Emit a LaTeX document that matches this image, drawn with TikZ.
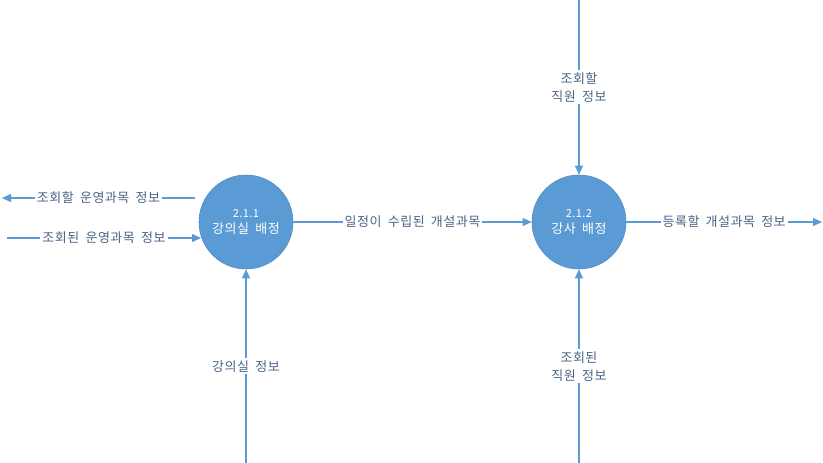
\documentclass[tikz,border=0pt]{standalone}
\usepackage{fontspec}
\newfontfamily\kr[LetterSpace=4,WordSpace=1.8]{Noto Sans CJK KR}
\usetikzlibrary{arrows.meta}
\definecolor{procblue}{HTML}{5B9BD5}
\definecolor{procedge}{HTML}{4F8DC8}
\definecolor{flowline}{HTML}{5B9BD5}
\definecolor{labeltext}{HTML}{4A6485}
\tikzset{
  proc/.style={circle, minimum size=94pt, inner sep=0pt, fill=procblue, draw=procedge, line width=0.6pt, text=white, align=center, font=\kr\fontsize{13}{16}\selectfont},
  flow/.style={draw=flowline, line width=1.2pt, -{Triangle[length=9pt,width=8pt]}},
  flowlabel/.style={fill=white, inner sep=2pt, text=labeltext, align=center, font=\kr\fontsize{13}{18}\selectfont},
}
\begin{document}
\begin{tikzpicture}[x=1pt,y=-1pt]
\useasboundingbox (0,0) rectangle (823,463);
\node[proc] (p1) at (246,222) {{\fontsize{11}{13}\selectfont 2.1.1}\\강의실 배정};
\node[proc] (p2) at (579,222) {{\fontsize{11}{13}\selectfont 2.1.2}\\강사 배정};
\coordinate (tlA) at (195,198);
\coordinate (tlB) at (2,198);
\coordinate (blA) at (7,238);
\coordinate (blB) at (201,238);
\coordinate (rE) at (822,222);
\coordinate (tT) at (579,0);
\coordinate (bR) at (579,463);
\coordinate (bL) at (246,463);
\draw[flow] (tlA) -- node[flowlabel] {조회할 운영과목 정보} (tlB);
\draw[flow] (blA) -- node[flowlabel] {조회된 운영과목 정보} (blB);
\draw[flow] (p1.east) -- node[flowlabel] {일정이 수립된 개설과목} (p2.west);
\draw[flow] (p2.east) -- node[flowlabel] {등록할 개설과목 정보} (rE);
\draw[flow] (tT) -- node[flowlabel] {조회할\\직원 정보} (p2.north);
\draw[flow] (bR) -- node[flowlabel] {조회된\\직원 정보} (p2.south);
\draw[flow] (bL) -- node[flowlabel] {강의실 정보} (p1.south);
\end{tikzpicture}
\end{document}
